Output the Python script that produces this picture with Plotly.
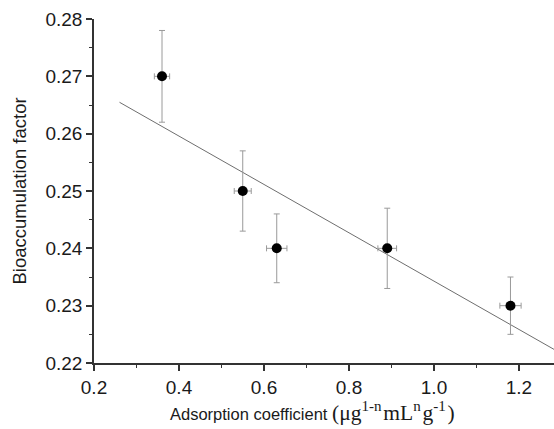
import numpy as np
import plotly.graph_objects as go

# Measured data: adsorption coefficient vs bioaccumulation factor
adsorption = [0.36, 0.55, 0.63, 0.89, 1.18]
adsorption_err = [0.018, 0.02, 0.024, 0.022, 0.025]
bioaccumulation = [0.270, 0.250, 0.240, 0.240, 0.230]
bioaccumulation_err = [0.008, 0.007, 0.006, 0.007, 0.005]

# Linear least-squares fit through the measurements
slope, intercept = np.polyfit(adsorption, bioaccumulation, 1)
fit_x = np.array([0.26, 1.30])
fit_y = slope * fit_x + intercept

fig = go.Figure()

fig.add_trace(go.Scatter(
    x=fit_x, y=fit_y, mode="lines",
    line=dict(color="#6e6e6e", width=1),
    hoverinfo="skip", showlegend=False,
))

fig.add_trace(go.Scatter(
    x=adsorption, y=bioaccumulation, mode="markers",
    marker=dict(color="black", size=10),
    error_x=dict(type="data", array=adsorption_err, color="#9a9a9a",
                 thickness=1, width=3),
    error_y=dict(type="data", array=bioaccumulation_err, color="#9a9a9a",
                 thickness=1, width=3),
    showlegend=False,
))

axis_font = dict(family="Liberation Sans, Arial, sans-serif", size=19, color="#1a1a1a")
unit_style = "font-family:'Liberation Serif', 'Times New Roman', serif; font-size:21.5px"
hair = "\u200a"
x_title = (f"Adsorption coefficient <span style=\"{unit_style}\">"
           f"(μg<sup>1-n</sup>{hair}mL<sup>n</sup>{hair}g<sup>-1</sup>{hair})</span>")

# x-axis title placed as an annotation just under the tick labels
fig.add_annotation(
    text=x_title, xref="paper", yref="paper", x=0.476, y=0,
    xanchor="center", yanchor="middle", yshift=-48, showarrow=False,
    font=dict(size=16.5, family="Liberation Sans, Arial, sans-serif", color="#1a1a1a"),
)

fig.update_layout(
    width=554, height=429,
    margin=dict(l=94, r=0, t=19, b=66),
    paper_bgcolor="white", plot_bgcolor="white",
    font=axis_font,
    xaxis=dict(
        range=[0.2, 1.2824],
        tickmode="array",
        tickvals=[0.2, 0.4, 0.6, 0.8, 1.0, 1.2],
        ticktext=["0.2", "0.4", "0.6", "0.8", "1.0", "1.2"],
        ticks="outside", ticklen=6, tickwidth=1.5, tickcolor="#333",
        minor=dict(ticks="outside", ticklen=3, tickwidth=1.2, tickcolor="#333", dtick=0.1),
        showline=True, linecolor="#333", linewidth=1.5,
        showgrid=False, zeroline=False,
    ),
    yaxis=dict(
        range=[0.22, 0.28],
        tickmode="array",
        tickvals=[0.22, 0.23, 0.24, 0.25, 0.26, 0.27, 0.28],
        ticktext=["0.22", "0.23", "0.24", "0.25", "0.26", "0.27", "0.28"],
        ticks="outside", ticklen=6, tickwidth=1.5, tickcolor="#333",
        minor=dict(ticks="outside", ticklen=3, tickwidth=1.2, tickcolor="#333", dtick=0.005),
        showline=True, linecolor="#333", linewidth=1.5,
        showgrid=False, zeroline=False,
        title=dict(text="Bioaccumulation factor", font=dict(size=18.5), standoff=14),
    ),
)

fig.write_html("out.html")
